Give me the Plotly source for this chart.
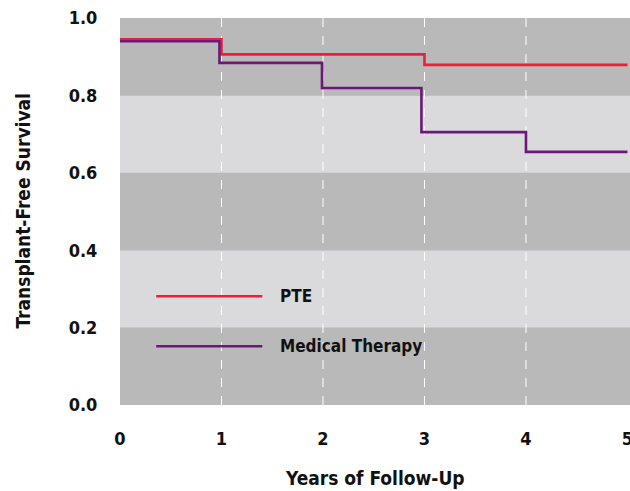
import plotly.graph_objects as go

years_pte = [0, 1, 3, 5]
surv_pte = [0.945, 0.906, 0.879, 0.879]
years_med = [0, 0.98, 1.99, 2.97, 4.0, 5]
surv_med = [0.94, 0.884, 0.819, 0.705, 0.654, 0.654]
x_ticks = [0, 1, 2, 3, 4, 5]
y_ticks = [0.0, 0.2, 0.4, 0.6, 0.8, 1.0]
y_tick_labels = ["0.0", "0.2", "0.4", "0.6", "0.8", "1.0"]
series_names = ["PTE", "Medical Therapy"]
series_colors = ["#ee1f35", "#6b1878"]
x_title = "Years of Follow-Up"
y_title = "Transplant-Free Survival"

FONT = "DejaVu Sans Condensed, Liberation Sans Narrow, Arial Narrow, sans-serif"
DARK = "#b9b9ba"
LIGHT = "#dadadc"
TXT = "#111111"

fig = go.Figure()
fig.add_trace(go.Scatter(x=years_pte, y=surv_pte, mode="lines", line=dict(shape="hv", color=series_colors[0], width=2.6), name=series_names[0], showlegend=False))
fig.add_trace(go.Scatter(x=years_med, y=surv_med, mode="lines", line=dict(shape="hv", color=series_colors[1], width=2.6), name=series_names[1], showlegend=False))

shapes = []
for i in range(len(y_ticks) - 1):
    shapes.append(dict(type="rect", xref="paper", yref="y", x0=0, x1=1, y0=y_ticks[i], y1=y_ticks[i + 1],
                       fillcolor=DARK if i % 2 == 0 else LIGHT, line=dict(width=0), layer="below"))
for xv in x_ticks[1:-1]:
    shapes.append(dict(type="line", xref="x", yref="paper", x0=xv, x1=xv, y0=0, y1=1,
                       line=dict(color="white", width=1, dash="dash"), layer="below"))

# legend drawn inside plot
leg_y = [0.281, 0.152]
annotations = []
for name, col, ly in zip(series_names, series_colors, leg_y):
    shapes.append(dict(type="line", xref="paper", yref="paper", x0=0.071, x1=0.279, y0=ly, y1=ly,
                       line=dict(color=col, width=2.5)))
    annotations.append(dict(xref="paper", yref="paper", x=0.310, y=ly, text=f"<b>{name}</b>", showarrow=False,
                            xanchor="left", yanchor="middle", font=dict(family=FONT, size=17, color=TXT)))

annotations.append(dict(xref="paper", yref="paper", x=0.5, y=0, yshift=-73, text=f"<b>{x_title}</b>",
                        showarrow=False, xanchor="center", yanchor="middle",
                        font=dict(family=FONT, size=19, color=TXT)))
annotations.append(dict(xref="paper", yref="paper", x=0, xshift=-98, y=0.5, yshift=0, text=f"<b>{y_title}</b>",
                        showarrow=False, xanchor="center", yanchor="middle", textangle=-90,
                        font=dict(family=FONT, size=19, color=TXT)))

fig.update_layout(
    width=630, height=491,
    margin=dict(l=120, r=0, t=18, b=86, autoexpand=False),
    paper_bgcolor="white", plot_bgcolor=DARK,
    shapes=shapes, annotations=annotations,
    font=dict(family=FONT, color=TXT),
    xaxis=dict(range=[0, 5.025], tickvals=x_ticks, ticktext=[f"<b>{v}</b>" for v in x_ticks],
               showgrid=False, zeroline=False, showline=False, automargin=False,
               ticklabeloverflow="allow",
               ticks="outside", ticklen=17, tickcolor="rgba(0,0,0,0)",
               tickfont=dict(family=FONT, size=18, color=TXT)),
    yaxis=dict(range=[0, 1], tickvals=y_ticks, ticktext=[f"<b>{t}</b>" for t in y_tick_labels],
               showgrid=False, zeroline=False, showline=False, automargin=False,
               ticks="outside", ticklen=18, tickcolor="rgba(0,0,0,0)",
               tickfont=dict(family=FONT, size=18, color=TXT)),
)

fig.write_html("out.html", config={"displayModeBar": False},
               post_script="document.body.style.margin='0px';document.body.style.overflow='hidden';")
